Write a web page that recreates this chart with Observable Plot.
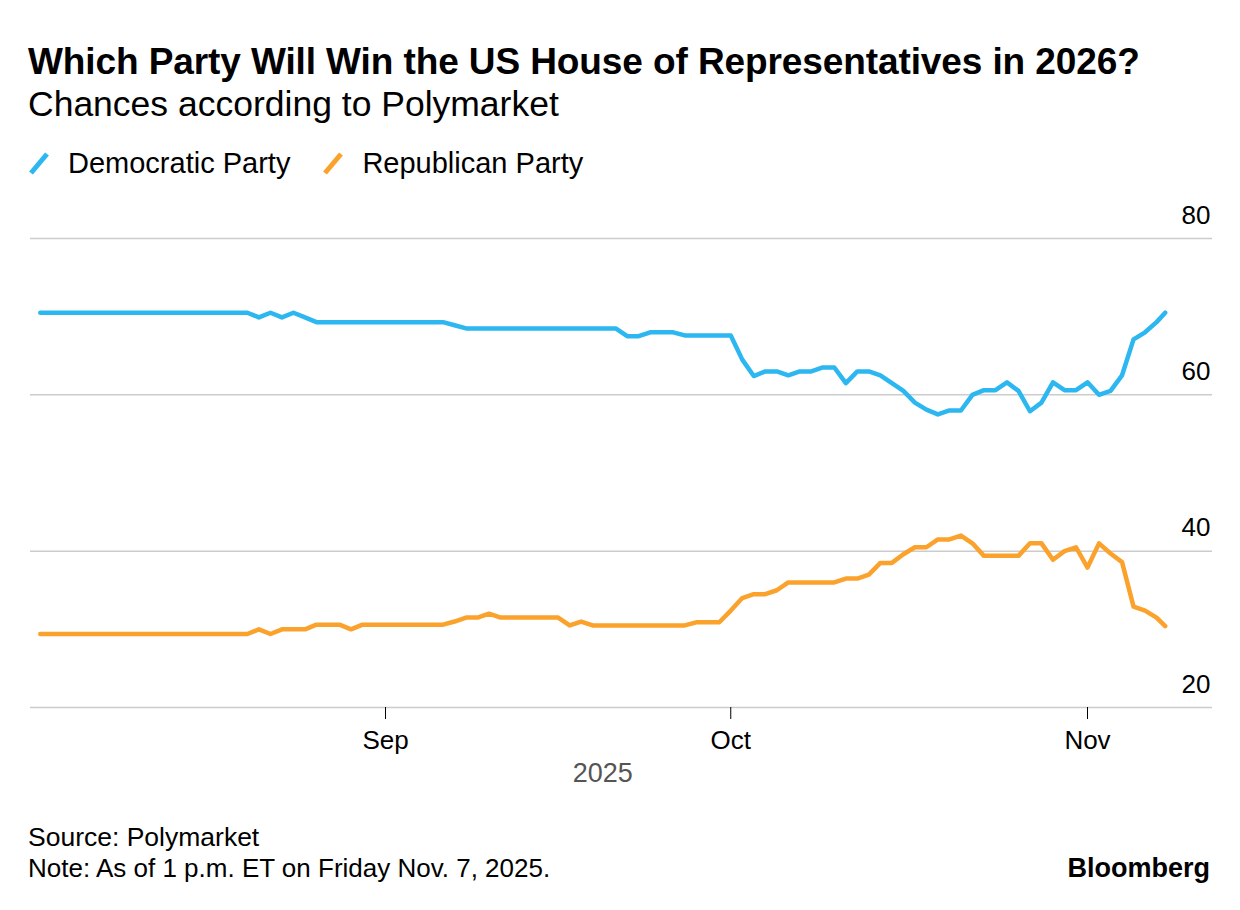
<!DOCTYPE html>
<html><head><meta charset="utf-8">
<script src="https://cdn.jsdelivr.net/npm/d3@7"></script>
<script src="https://cdn.jsdelivr.net/npm/@observablehq/plot@0.6"></script>
<style>
body{margin:0;background:#fff;font-family:"Liberation Sans",Arial,sans-serif;color:#000;}
#wrap{position:relative;width:1240px;height:910px;overflow:hidden;}
.title{position:absolute;left:28px;top:42px;font-size:37px;font-weight:bold;line-height:40px;white-space:nowrap;letter-spacing:-0.1px;}
.subtitle{position:absolute;left:28px;top:84px;font-size:35.5px;line-height:40px;white-space:nowrap;}
.legend{position:absolute;left:28px;top:146px;font-size:29px;line-height:34px;display:flex;align-items:center;white-space:nowrap;}
.legend .item{display:flex;align-items:center;margin-right:32px;}
.legend svg{margin-right:18px;}
#chart{position:absolute;left:0;top:190px;}
.source{position:absolute;left:28px;top:822px;font-size:26.5px;line-height:30px;}
.note{position:absolute;left:28px;top:853px;font-size:26px;line-height:30px;white-space:nowrap;}
.brand{position:absolute;right:30px;top:853px;font-size:27px;font-weight:bold;line-height:30px;}
</style></head>
<body>
<div id="wrap">
  <div class="title">Which Party Will Win the US House of Representatives in 2026?</div>
  <div class="subtitle">Chances according to Polymarket</div>
  <div class="legend" id="legend"></div>
  <div id="chart"></div>
  <div class="source">Source: Polymarket</div>
  <div class="note">Note: As of 1 p.m. ET on Friday Nov. 7, 2025.</div>
  <div class="brand">Bloomberg</div>
</div>
<script>
// Daily readings from 2025-08-02 through 2025-11-07, then a last reading at 1 p.m. ET Nov. 7
const startDate = "2025-08-02";
const lastStamp = "2025-11-07T18:00:00Z";
const seriesNames = ["Democratic Party", "Republican Party"];
const seriesColors = ["#2cb7f1", "#fba22c"];
const democratic = [
  70.5,70.5,70.5,70.5,70.5,70.5,70.5,70.5,70.5,70.5,
  70.5,70.5,70.5,70.5,70.5,70.5,70.5,70.5,70.5,69.9,
  70.5,69.9,70.5,69.9,69.3,69.3,69.3,69.3,69.3,69.3,
  69.3,69.3,69.3,69.3,69.3,69.3,68.9,68.5,68.5,68.5,
  68.5,68.5,68.5,68.5,68.5,68.5,68.5,68.5,68.5,68.5,
  68.5,67.5,67.5,68.0,68.0,68.0,67.6,67.6,67.6,67.6,
  67.6,64.5,62.4,63.0,63.0,62.5,63.0,63.0,63.5,63.5,
  61.5,63.0,63.0,62.5,61.5,60.5,59.0,58.1,57.5,58.0,
  58.0,60.0,60.6,60.6,61.6,60.5,57.9,59.0,61.6,60.6,
  60.6,61.6,60.0,60.5,62.5,67.1,68.0,69.3,70.5
];
const republican = [
  29.4,29.4,29.4,29.4,29.4,29.4,29.4,29.4,29.4,29.4,
  29.4,29.4,29.4,29.4,29.4,29.4,29.4,29.4,29.4,30.0,
  29.4,30.0,30.0,30.0,30.6,30.6,30.6,30.0,30.6,30.6,
  30.6,30.6,30.6,30.6,30.6,30.6,31.0,31.5,31.5,32.0,
  31.5,31.5,31.5,31.5,31.5,31.5,30.5,31.0,30.5,30.5,
  30.5,30.5,30.5,30.5,30.5,30.5,30.5,30.9,30.9,30.9,
  32.4,34.0,34.5,34.5,35.0,36.0,36.0,36.0,36.0,36.0,
  36.5,36.5,37.0,38.5,38.5,39.6,40.5,40.5,41.5,41.5,
  42.0,41.0,39.4,39.4,39.4,39.4,41.0,41.0,38.9,40.0,
  40.5,37.9,41.0,39.7,38.6,32.9,32.4,31.5,30.4
];
const yTicks = [20, 40, 60, 80];
const xTicks = ["2025-09-01", "2025-10-01", "2025-11-01"];
const xDomain = ["2025-08-01T03:35:00Z", "2025-11-11T20:40:00Z"];
const yearLabel = "2025";

const start = new Date(startDate + "T00:00:00Z");
const dates = democratic.map((_, i) => i < democratic.length - 1 ? d3.utcDay.offset(start, i) : new Date(lastStamp));
const rows = [];
seriesNames.forEach((name, k) => {
  const vals = k === 0 ? democratic : republican;
  vals.forEach((v, i) => rows.push({date: dates[i], value: v, party: name}));
});

// legend
const lg = document.getElementById("legend");
seriesNames.forEach((n, k) => {
  const it = document.createElement("div");
  it.className = "item";
  it.innerHTML = `<svg width="22" height="26"><line x1="3" y1="23" x2="19" y2="4" stroke="${seriesColors[k]}" stroke-width="5"/></svg><span>${n}</span>`;
  lg.appendChild(it);
});

const midDate = new Date((dates[0].getTime() + dates[dates.length - 1].getTime()) / 2);

const chart = Plot.plot({
  width: 1240,
  height: 610,
  marginLeft: 30,
  marginRight: 28,
  marginTop: 48,
  marginBottom: 93,
  style: {fontFamily: "Liberation Sans, Arial, sans-serif", fontSize: "26px", color: "#000", background: "#fff", overflow: "visible"},
  x: {type: "utc", domain: xDomain.map(d => new Date(d))},
  y: {domain: [20, 80], axis: null},
  color: {domain: seriesNames, range: seriesColors},
  marks: [
    Plot.ruleY(yTicks, {stroke: "#cccccc", strokeWidth: 1.5}),
    Plot.axisX(xTicks.map(d => new Date(d + "T00:00:00Z")), {tickFormat: d3.utcFormat("%b"), tickSize: 12, tickPadding: 11, label: null, stroke: "#000", fontSize: 26}),
    Plot.text(yTicks, {y: d => d, text: d => String(d), frameAnchor: "right", textAnchor: "end", dx: -2, dy: -23, fontSize: 26, fill: "#000", letterSpacing: "1px"}),
    Plot.text([midDate], {x: d => d, text: () => yearLabel, frameAnchor: "bottom", lineAnchor: "middle", dy: 66, fontSize: 27, fill: "#555", letterSpacing: "2px"}),
    Plot.line(rows, {x: "date", y: "value", z: "party", stroke: "party", strokeWidth: 4.5, strokeLinejoin: "round", strokeLinecap: "round"})
  ]
});
document.getElementById("chart").appendChild(chart);
</script>
</body></html>
